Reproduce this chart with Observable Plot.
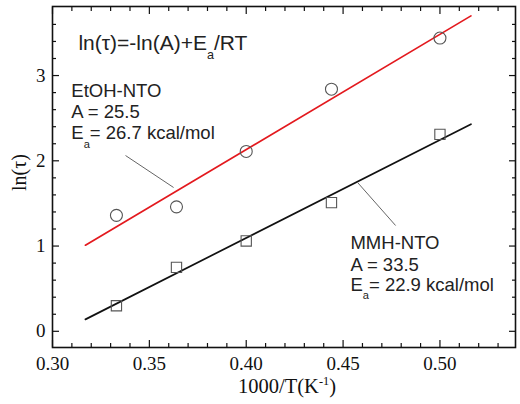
<!DOCTYPE html>
<html><head><meta charset="utf-8">
<script src="https://cdn.jsdelivr.net/npm/d3@7"></script>
<script src="https://cdn.jsdelivr.net/npm/@observablehq/plot@0.6"></script>
<style>html,body{margin:0;padding:0;background:#fff}</style>
</head><body><div id="chart"></div>
<script>
// Data
const invT = [0.333, 0.364, 0.400, 0.444, 0.500];
const lnTauEtOH = [1.36, 1.46, 2.11, 2.84, 3.44];
const lnTauMMH = [0.30, 0.75, 1.06, 1.51, 2.31];
const fitX = [0.317, 0.516];
const fitEtOH = [1.01, 3.70];
const fitMMH = [0.14, 2.43];
const xMajor = [0.30, 0.35, 0.40, 0.45, 0.50];
const xMinor = [0.31, 0.32, 0.33, 0.34, 0.36, 0.37, 0.38, 0.39, 0.41, 0.42, 0.43, 0.44, 0.46, 0.47, 0.48, 0.49, 0.51, 0.52, 0.53];
const yMajor = [0, 1, 2, 3];
const yMinor = [0.2, 0.4, 0.6, 0.8, 1.2, 1.4, 1.6, 1.8, 2.2, 2.4, 2.6, 2.8, 3.2, 3.4, 3.6];
const formula = ["ln(τ)=-ln(A)+E_a/RT"];
const etohLines = ["EtOH-NTO", "A = 25.5", "E_a= 26.7 kcal/mol"];
const mmhLines = ["MMH-NTO", "A = 33.5", "E_a= 22.9 kcal/mol"];
const xLabel = "1000/T(K^-1)";
const yLabel = "ln(τ)";

const points = invT.map((x, i) => ({x, etoh: lnTauEtOH[i], mmh: lnTauMMH[i]}));
const fits = fitX.map((x, i) => ({x, etoh: fitEtOH[i], mmh: fitMMH[i]}));
const etohNotes = etohLines.map((t, i) => ({t, x: 0.3097, y: [2.815, 2.569, 2.327][i]}));
const mmhNotes = mmhLines.map((t, i) => ({t, x: 0.4538, y: [1.037, 0.782, 0.548][i]}));
const leaders = [
  {x1: 0.3377, y1: 2.062, x2: 0.3625, y2: 1.687},
  {x1: 0.4575, y1: 1.745, x2: 0.4771, y2: 1.241}
];

const sans = "Liberation Sans, Arial, sans-serif";
const serif = "Liberation Serif, Times New Roman, serif";

const chart = Plot.plot({
  width: 520, height: 404,
  marginLeft: 52, marginRight: 5, marginTop: 6, marginBottom: 57,
  style: {fontFamily: serif, fontSize: "19px", color: "#111", background: "#fff"},
  x: {domain: [0.30, 0.539]},
  y: {domain: [-0.19, 3.81]},
  marks: [
    Plot.axisX(xMajor, {anchor: "bottom", tickSize: -7, tickPadding: 15.5, tickFormat: ".2f", label: null, strokeWidth: 1.2}),
    Plot.axisX(xMinor, {anchor: "bottom", tickSize: -4, tickFormat: () => "", fill: "none", label: null, strokeWidth: 1.2}),
    Plot.axisX(xMajor, {anchor: "top", tickSize: -7, tickFormat: () => "", fill: "none", label: null, strokeWidth: 1.2}),
    Plot.axisX(xMinor, {anchor: "top", tickSize: -4, tickFormat: () => "", fill: "none", label: null, strokeWidth: 1.2}),
    Plot.axisY(yMajor, {anchor: "left", tickSize: -7, tickPadding: 14, tickFormat: d => String(d), label: null, strokeWidth: 1.2}),
    Plot.axisY(yMinor, {anchor: "left", tickSize: -4, tickFormat: () => "", fill: "none", label: null, strokeWidth: 1.2}),
    Plot.axisY(yMajor, {anchor: "right", tickSize: -7, tickFormat: () => "", fill: "none", label: null, strokeWidth: 1.2}),
    Plot.axisY(yMinor, {anchor: "right", tickSize: -4, tickFormat: () => "", fill: "none", label: null, strokeWidth: 1.2}),
    Plot.frame({stroke: "#111", strokeWidth: 1.6}),
    Plot.line(fits, {x: "x", y: "etoh", stroke: "#e3191e", strokeWidth: 1.7}),
    Plot.line(fits, {x: "x", y: "mmh", stroke: "#111", strokeWidth: 1.7}),
    Plot.dot(points, {x: "x", y: "etoh", symbol: "circle", r: 6, stroke: "#555", strokeWidth: 1.1, fill: "none"}),
    Plot.dot(points, {x: "x", y: "mmh", symbol: "square", r: 5.8, stroke: "#555", strokeWidth: 1.1, fill: "none"}),
    Plot.link(leaders, {x1: "x1", y1: "y1", x2: "x2", y2: "y2", stroke: "#666", strokeWidth: 1}),
    Plot.text(formula, {x: () => 0.3134, y: () => 3.381, text: d => d, textAnchor: "start", fontFamily: sans, fontSize: 21, fill: "#222"}),
    Plot.text(etohNotes, {x: "x", y: "y", text: "t", textAnchor: "start", fontFamily: sans, fontSize: 18.5, fill: "#222"}),
    Plot.text(mmhNotes, {x: "x", y: "y", text: "t", textAnchor: "start", fontFamily: sans, fontSize: 18.5, fill: "#222"}),
    Plot.text([xLabel], {frameAnchor: "bottom", dy: 45, dx: 3, text: d => d, fontFamily: serif, fontSize: 20.5, fill: "#111"}),
    Plot.text([yLabel], {frameAnchor: "left", dx: -33, dy: 14, rotate: -90, text: d => d, fontFamily: serif, fontSize: 20, fill: "#111"})
  ]
});

// Render subscripts (_a) and superscripts (^-1) as real tspans
d3.select(chart).selectAll("text").each(function() {
  const t = this.textContent;
  if (!t.includes("_a") && !t.includes("^-1")) return;
  const el = d3.select(this);
  const parts = t.split(/(_a|\^-1)/);
  this.textContent = "";
  let back = 0;
  for (const p of parts) {
    if (p === "_a") {
      el.append("tspan").attr("font-size", "0.6em").attr("dy", 9).text("a");
      back = -9;
    } else if (p === "^-1") {
      el.append("tspan").attr("font-size", "0.6em").attr("dy", -8).text("-1");
      back = 8;
    } else if (p) {
      el.append("tspan").attr("dy", back).text(p);
      back = 0;
    }
  }
});

document.getElementById("chart").appendChild(chart);
</script>
</body></html>
